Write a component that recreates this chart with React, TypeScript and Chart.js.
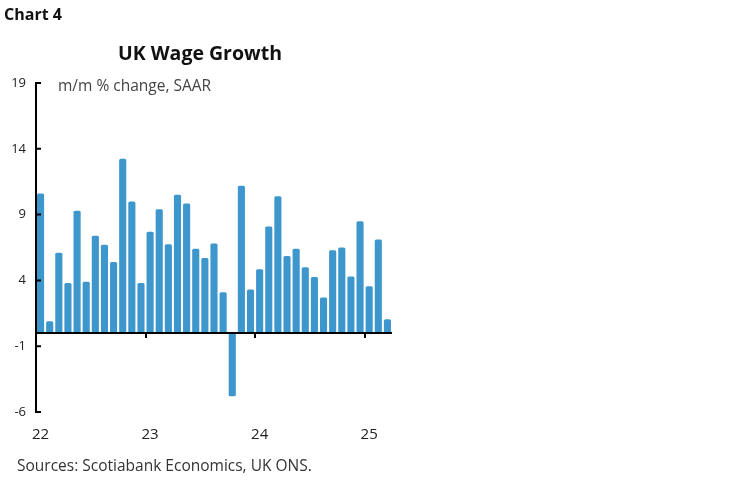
import { useEffect, useRef } from 'react';
import Chart from 'chart.js/auto';

const months = [
  'Jan 22', 'Feb 22', 'Mar 22', 'Apr 22', 'May 22', 'Jun 22', 'Jul 22', 'Aug 22', 'Sep 22', 'Oct 22', 'Nov 22', 'Dec 22',
  'Jan 23', 'Feb 23', 'Mar 23', 'Apr 23', 'May 23', 'Jun 23', 'Jul 23', 'Aug 23', 'Sep 23', 'Oct 23', 'Nov 23', 'Dec 23',
  'Jan 24', 'Feb 24', 'Mar 24', 'Apr 24', 'May 24', 'Jun 24', 'Jul 24', 'Aug 24', 'Sep 24', 'Oct 24', 'Nov 24', 'Dec 24',
  'Jan 25', 'Feb 25', 'Mar 25',
];

// m/m % change, SAAR
const wageGrowth = [
  10.6, 0.9, 6.1, 3.8, 9.3, 3.9, 7.4, 6.7, 5.4, 13.25, 10.0, 3.8,
  7.7, 9.4, 6.75, 10.5, 9.85, 6.4, 5.7, 6.8, 3.1, -4.8, 11.2, 3.3,
  4.85, 8.1, 10.4, 5.85, 6.4, 5.0, 4.25, 2.7, 6.3, 6.5, 4.3, 8.5,
  3.55, 7.1, 1.05,
];

const yMin = -6;
const yMax = 19;
const yStep = 5;

const FONT = "'Open Sans', sans-serif";

// zero line, year tick marks under it, and inward y tick marks
const axisMarks = {
  id: 'axisMarks',
  afterDatasetsDraw(chart: Chart) {
    const { ctx, chartArea } = chart;
    const x = chart.scales.x;
    const y = chart.scales.y;
    const y0 = y.getPixelForValue(0);
    const half = (x.getPixelForValue(1) - x.getPixelForValue(0)) / 2;
    ctx.save();
    ctx.strokeStyle = '#000';
    ctx.lineWidth = 2;
    ctx.beginPath();
    ctx.moveTo(chartArea.left, y0);
    ctx.lineTo(chartArea.right, y0);
    months.forEach((m, i) => {
      if (i > 0 && m.startsWith('Jan')) {
        const px = Math.round(x.getPixelForValue(i) - half);
        ctx.moveTo(px, y0);
        ctx.lineTo(px, y0 + 5);
      }
    });
    y.ticks.forEach(t => {
      const py = y.getPixelForValue(t.value);
      ctx.moveTo(chartArea.left, py);
      ctx.lineTo(chartArea.left + 5, py);
    });
    ctx.stroke();
    ctx.restore();
  },
};

const WageChart = () => {
  const canvasRef = useRef<HTMLCanvasElement | null>(null);
  const chartRef = useRef<Chart | null>(null);

  useEffect(() => {
    if (!canvasRef.current) return;
    const ctx = canvasRef.current.getContext('2d');
    if (!ctx) return;
    if (chartRef.current) chartRef.current.destroy();

    chartRef.current = new Chart(ctx, {
      type: 'bar',
      data: {
        labels: months,
        datasets: [
          {
            label: 'UK Wage Growth',
            data: wageGrowth,
            backgroundColor: '#3D97CC',
            barPercentage: 0.78,
            categoryPercentage: 1,
            borderRadius: 1.5,
            borderSkipped: false,
          },
        ],
      },
      options: {
        animation: false,
        responsive: true,
        maintainAspectRatio: false,
        layout: { padding: { top: 83, right: 357, left: 0, bottom: 0 } },
        plugins: {
          legend: { display: false },
          title: { display: false },
          tooltip: { enabled: false },
        },
        scales: {
          x: {
            offset: true,
            grid: { display: false, drawTicks: false },
            border: { display: false },
            ticks: {
              autoSkip: false,
              maxRotation: 0,
              padding: 14,
              color: '#222',
              font: { family: FONT, size: 15 },
              callback: (_v: any, i: number) =>
                months[i].startsWith('Jan') ? months[i].split(' ')[1] : '',
            },
            afterFit: (scale: any) => {
              scale.height = 70;
            },
          },
          y: {
            min: yMin,
            max: yMax,
            grid: { drawOnChartArea: false, drawTicks: false },
            border: { display: true, color: '#000', width: 2 },
            ticks: {
              stepSize: yStep,
              padding: 10,
              color: '#222',
              font: { family: FONT, size: 13 },
            },
            afterFit: (scale: any) => {
              scale.width = 36;
            },
          },
        },
      },
      plugins: [axisMarks],
    });

    return () => {
      if (chartRef.current) {
        chartRef.current.destroy();
        chartRef.current = null;
      }
    };
  }, []);

  return (
    <div style={{ position: 'absolute', left: 0, top: 0, width: 749, height: 482 }}>
      <canvas ref={canvasRef} />
    </div>
  );
};

const App = () => {
  const text = { position: 'absolute' as const, fontFamily: FONT, lineHeight: 1, whiteSpace: 'nowrap' as const };
  return (
    <div style={{ position: 'absolute', left: 0, top: 0, width: 749, height: 482, background: '#fff', overflow: 'hidden' }}>
      <WageChart />
      <div style={{ ...text, left: 4, top: 6, fontSize: 16, fontWeight: 700, color: '#111' }}>Chart 4</div>
      <div style={{ ...text, left: 118, top: 43, fontSize: 19.5, fontWeight: 700, color: '#111' }}>UK Wage Growth</div>
      <div style={{ ...text, left: 58, top: 78, fontSize: 15.5, color: '#444' }}>m/m % change, SAAR</div>
      <div style={{ ...text, left: 17, top: 458, fontSize: 15.5, color: '#333' }}>Sources: Scotiabank Economics, UK ONS.</div>
    </div>
  );
};

export default App;
